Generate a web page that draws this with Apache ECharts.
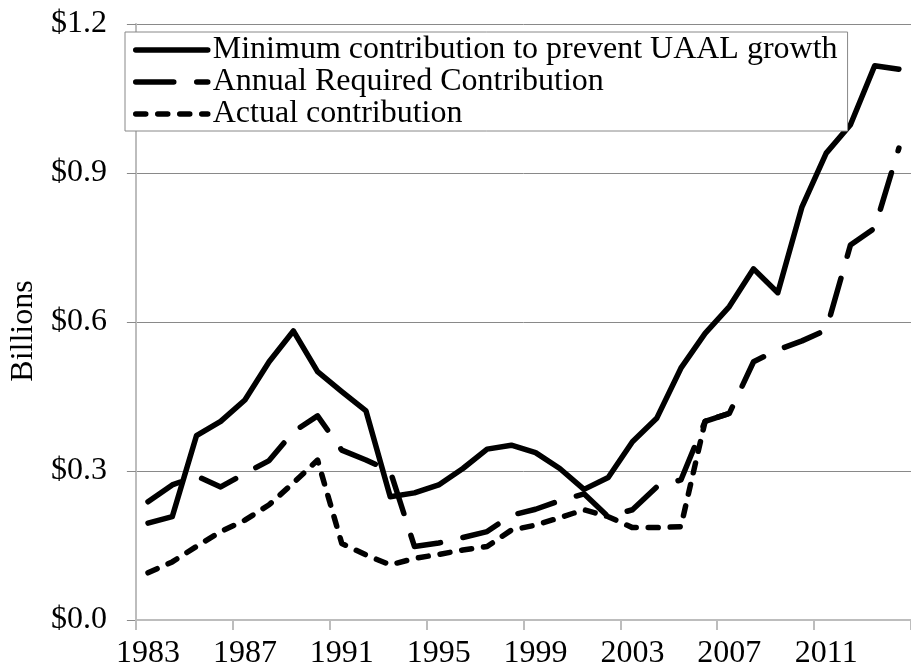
<!DOCTYPE html>
<html>
<head>
<meta charset="utf-8">
<script src="https://cdn.jsdelivr.net/npm/echarts@6/dist/echarts.min.js"></script>
<style>
html,body{margin:0;padding:0;background:#fff;}
#chart{width:911px;height:671px;}
</style>
</head>
<body>
<div id="chart"></div>
<script>
var years = ['1983','1984','1985','1986','1987','1988','1989','1990','1991','1992','1993','1994','1995','1996','1997','1998','1999','2000','2001','2002','2003','2004','2005','2006','2007','2008','2009','2010','2011','2012','2013','2014'];
var minContribution = [0.195,0.208,0.371,0.400,0.443,0.520,0.582,0.500,0.460,0.421,0.248,0.256,0.272,0.305,0.344,0.352,0.337,0.305,0.263,0.287,0.359,0.406,0.507,0.577,0.631,0.707,0.659,0.832,0.940,0.997,1.116,1.109];
var annualRequired = [0.238,0.272,0.290,0.268,0.295,0.321,0.379,0.411,0.342,0.322,0.300,0.148,0.155,0.166,0.178,0.211,0.223,0.240,0.254,0.208,0.222,0.268,0.282,0.400,0.416,0.520,0.544,0.562,0.584,0.755,0.789,0.950];
var actualContribution = [0.095,0.117,0.148,0.178,0.201,0.232,0.276,0.322,0.154,0.131,0.111,0.124,0.132,0.141,0.148,0.181,0.191,0.206,0.222,0.208,0.186,0.186,0.188,0.400,0.416,null,null,null,null,null,null,null];
var seriesNames = ['Minimum contribution to prevent UAAL growth','Annual Required Contribution','Actual contribution'];

var FONT = "'Liberation Serif','Times New Roman',serif";
var LW = 5.5;
var chart = echarts.init(document.getElementById('chart'), null, {renderer:'canvas'});
chart.setOption({
  animation:false,
  backgroundColor:'#fff',
  textStyle:{fontFamily:FONT, color:'#000'},
  grid:{left:122, top:24, width:797, height:596, containLabel:false},
  legend:{
    orient:'vertical', left:125, top:32,
    backgroundColor:'#fff', borderColor:'#888', borderWidth:1,
    padding:[2,10,1,8], itemGap:0, itemWidth:72, itemHeight:14,
    itemStyle:{color:'rgba(0,0,0,0)', borderWidth:0, opacity:0},
    lineStyle:{width:LW, cap:'round'},
    textStyle:{fontFamily:FONT, fontSize:32, color:'#000'},
    data:seriesNames
  },
  xAxis:{
    type:'category', data:years, boundaryGap:true,
    axisLine:{lineStyle:{color:'#bdbdbd', width:2}},
    axisTick:{show:true, interval:3, length:10, lineStyle:{color:'#bdbdbd', width:2}},
    axisLabel:{interval:3, fontFamily:FONT, fontSize:32, color:'#000', margin:18},
    splitLine:{show:false}
  },
  yAxis:{
    type:'value', min:0, max:1.2, interval:0.3,
    name:'Billions', nameLocation:'middle', nameGap:94,
    nameTextStyle:{fontFamily:FONT, fontSize:32, color:'#000', padding:[0,18,0,0]},
    axisLine:{show:true, lineStyle:{color:'#bdbdbd', width:2}},
    axisTick:{show:true, length:9, lineStyle:{color:'#898989', width:1}},
    axisLabel:{fontFamily:FONT, fontSize:32, color:'#000', margin:29,
      formatter:function(v){return '$' + v.toFixed(1);}},
    splitLine:{show:true, showMinLine:false, lineStyle:{color:'#898989', width:1}}
  },
  series:[
    {name:seriesNames[0], type:'line', data:minContribution, symbol:'none', showSymbol:false,
     lineStyle:{color:'#000', width:LW, cap:'round', join:'round'}, itemStyle:{color:'#000'}},
    {name:seriesNames[1], type:'line', data:annualRequired, symbol:'none', showSymbol:false,
     lineStyle:{color:'#000', width:LW, type:[38,23], cap:'round', join:'round'}, itemStyle:{color:'#000'}},
    {name:seriesNames[2], type:'line', data:actualContribution, symbol:'none', showSymbol:false,
     lineStyle:{color:'#000', width:LW, type:[10,12], cap:'round', join:'round'}, itemStyle:{color:'#000'}}
  ]
});
</script>
</body>
</html>
